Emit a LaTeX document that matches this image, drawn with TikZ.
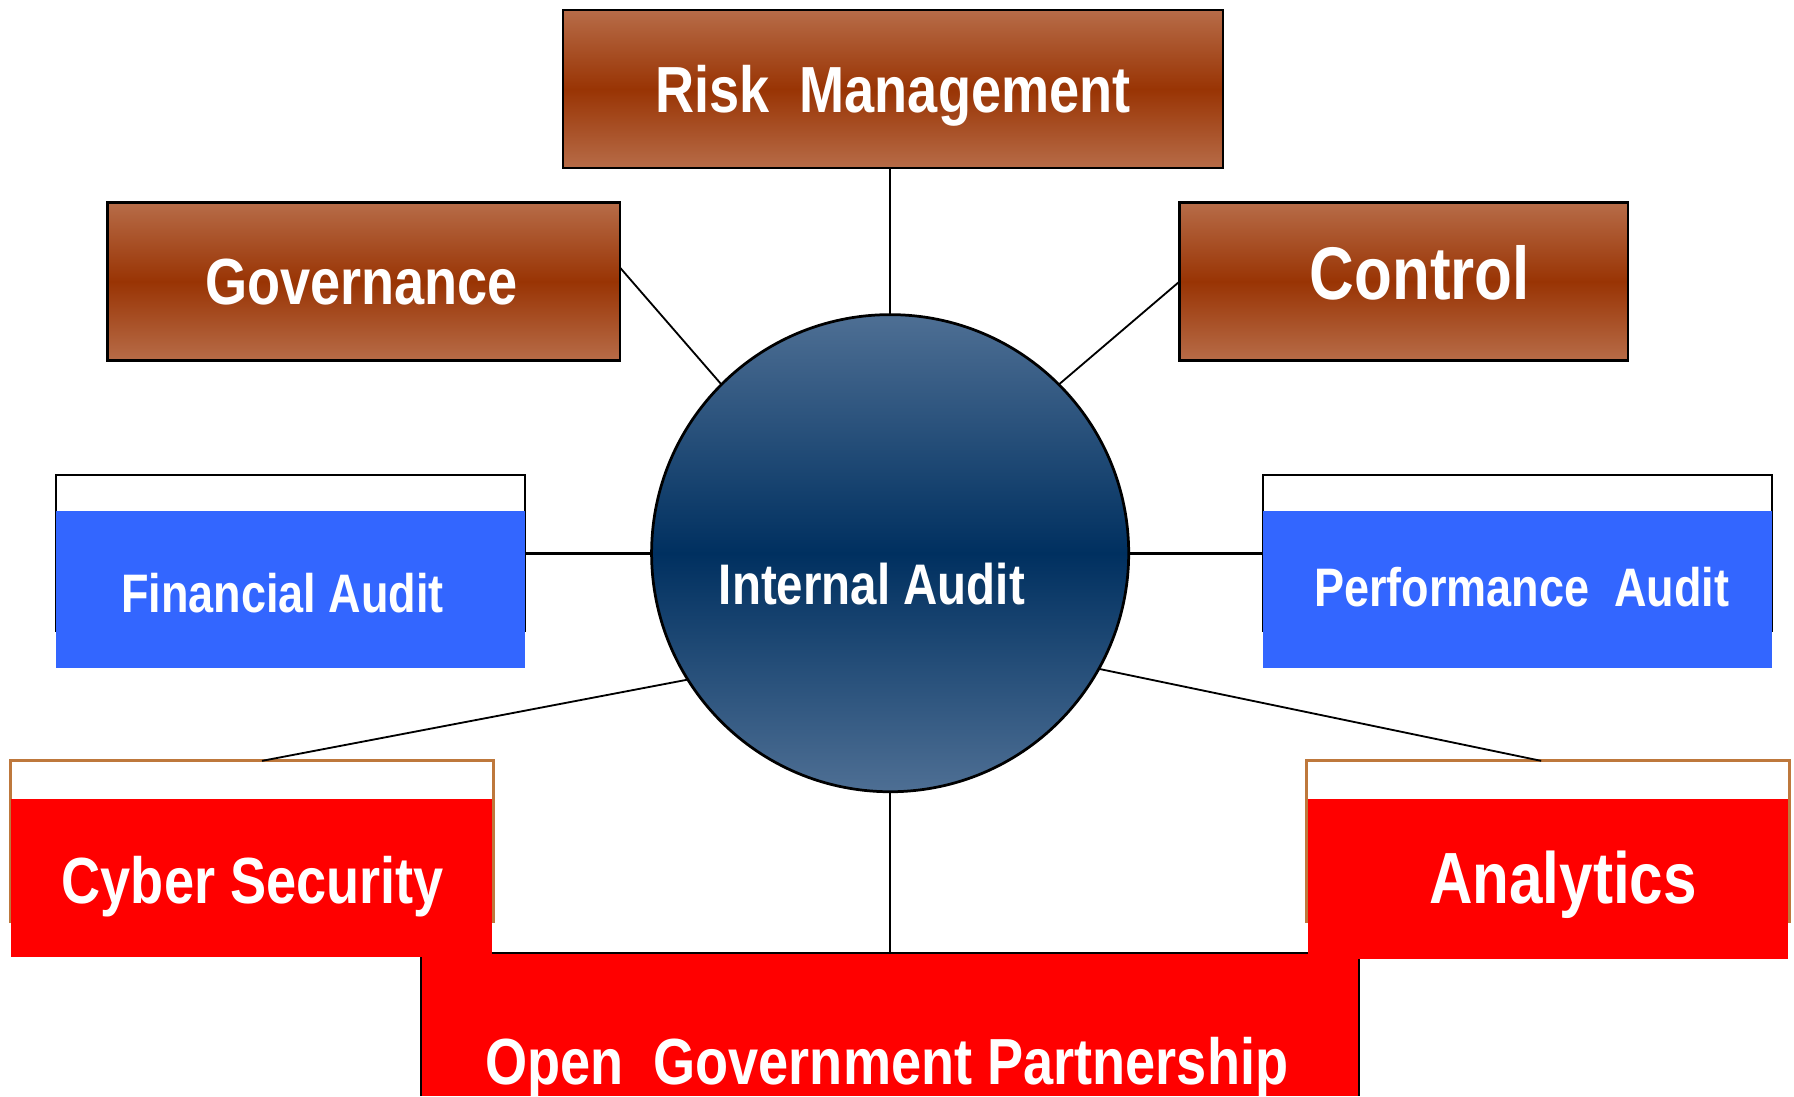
\documentclass[tikz,border=0pt]{standalone}
\usepackage{fontspec}
\setmainfont{Liberation Sans}[FakeStretch=0.83]
\definecolor{brownlight}{RGB}{183,108,72}
\definecolor{browndark}{RGB}{153,52,4}
\definecolor{navylight}{RGB}{78,111,148}
\definecolor{navydark}{RGB}{0,48,96}
\definecolor{auditblue}{RGB}{51,102,255}
\definecolor{framebrown}{RGB}{190,120,60}
\begin{document}
\begin{tikzpicture}[x=0.5pt,y=-0.5pt,
  box/.style={rectangle,inner sep=0pt,outer sep=0pt},
  brownbox/.style={box,draw=black,line width=1pt,
    top color=brownlight,bottom color=brownlight,middle color=browndark},
  whiteframe/.style={box,draw=black,line width=0.8pt,fill=white},
  copperframe/.style={box,draw=framebrown,line width=1.4pt,fill=white},
  bluebox/.style={box,fill=auditblue},
  redbox/.style={box,fill=red},
  lbl/.style={text=white,anchor=base,inner sep=0pt,
    font=\bfseries\fontsize{#1}{#1}\selectfont},
  lbl/.default=28.5,
  conn/.style={draw=black,line width=0.8pt},
  thickconn/.style={draw=black,line width=1.4pt}
]
\useasboundingbox (0,0) rectangle (1568,958);
\fill[white] (0,0) rectangle (1568,958);

% upper row: risk, governance, control
\node[brownbox,minimum width=288.5pt,minimum height=69pt] (risk) at (780.5,78) {};
\node[lbl] (riskT) at (780.5,98) {Risk\ \ Management};
\node[brownbox,minimum width=224pt,minimum height=69pt] (gov) at (318,246) {};
\node[lbl] (govT) at (316,266) {Governance};
\node[brownbox,minimum width=196pt,minimum height=69pt] (ctl) at (1227,246) {};
\node[lbl=32.6] (ctlT) at (1241,262) {Control};

% audit types
\node[whiteframe,minimum width=205pt,minimum height=68.5pt] (faframe) at (254,483.5) {};
\node[bluebox,minimum width=205pt,minimum height=68.5pt] (fa) at (254,515.5) {};
\node[lbl=23.7] (faT) at (247,535) {Financial Audit};
\node[whiteframe,minimum width=222.5pt,minimum height=68.5pt] (paframe) at (1326.5,483.5) {};
\node[bluebox,minimum width=222.5pt,minimum height=68.5pt] (pa) at (1326.5,515.5) {};
\node[lbl=23.7] (paT) at (1330,530) {Performance\ \ Audit};

% bottom block
\node[redbox,minimum width=410pt,minimum height=62.5pt] (ogp) at (778,895.5) {};
\draw[black,line width=1pt] (ogp.south west) -- (ogp.north west) -- (ogp.north east) -- (ogp.south east);
\node[lbl] (ogpT) at (775,948) {Open\ \ Government Partnership};

\node[copperframe,minimum width=211pt,minimum height=70pt] (csframe) at (220,735) {};
\node[redbox,minimum width=210pt,minimum height=69pt] (cs) at (220,767) {};
\node[lbl] (csT) at (221,790) {Cyber Security};
\node[copperframe,minimum width=211pt,minimum height=70pt] (anframe) at (1353,735) {};
\node[redbox,minimum width=210pt,minimum height=70pt] (an) at (1353,768) {};
\node[lbl=31.7] (anT) at (1366,790) {Analytics};

% centre
\node[circle,draw=black,line width=1.2pt,minimum size=208.5pt,inner sep=0pt,outer sep=0pt,
  top color=navylight,bottom color=navylight,middle color=navydark] (ia) at (778,483.5) {};
\node[lbl=25] (iaT) at (762,528) {Internal Audit};

% spokes
\draw[conn,line width=1.1pt] (ia.north) -- (ia.north |- risk.south);
\draw[conn] ([yshift=6pt]gov.east) -- (ia.135);
\draw[conn] (ctl.west) -- (ia.45);
\draw[thickconn] (ia.west) -- (ia.west -| faframe.east);
\draw[thickconn] (ia.east) -- (ia.east -| paframe.west);
\draw[conn] (ia.212) -- ([xshift=4.5pt]csframe.north);
\draw[conn] (ia.-29) -- ([xshift=-3pt]anframe.north);
\draw[conn] (ia.south) -- (ia.south |- ogp.north);
\end{tikzpicture}
\end{document}
